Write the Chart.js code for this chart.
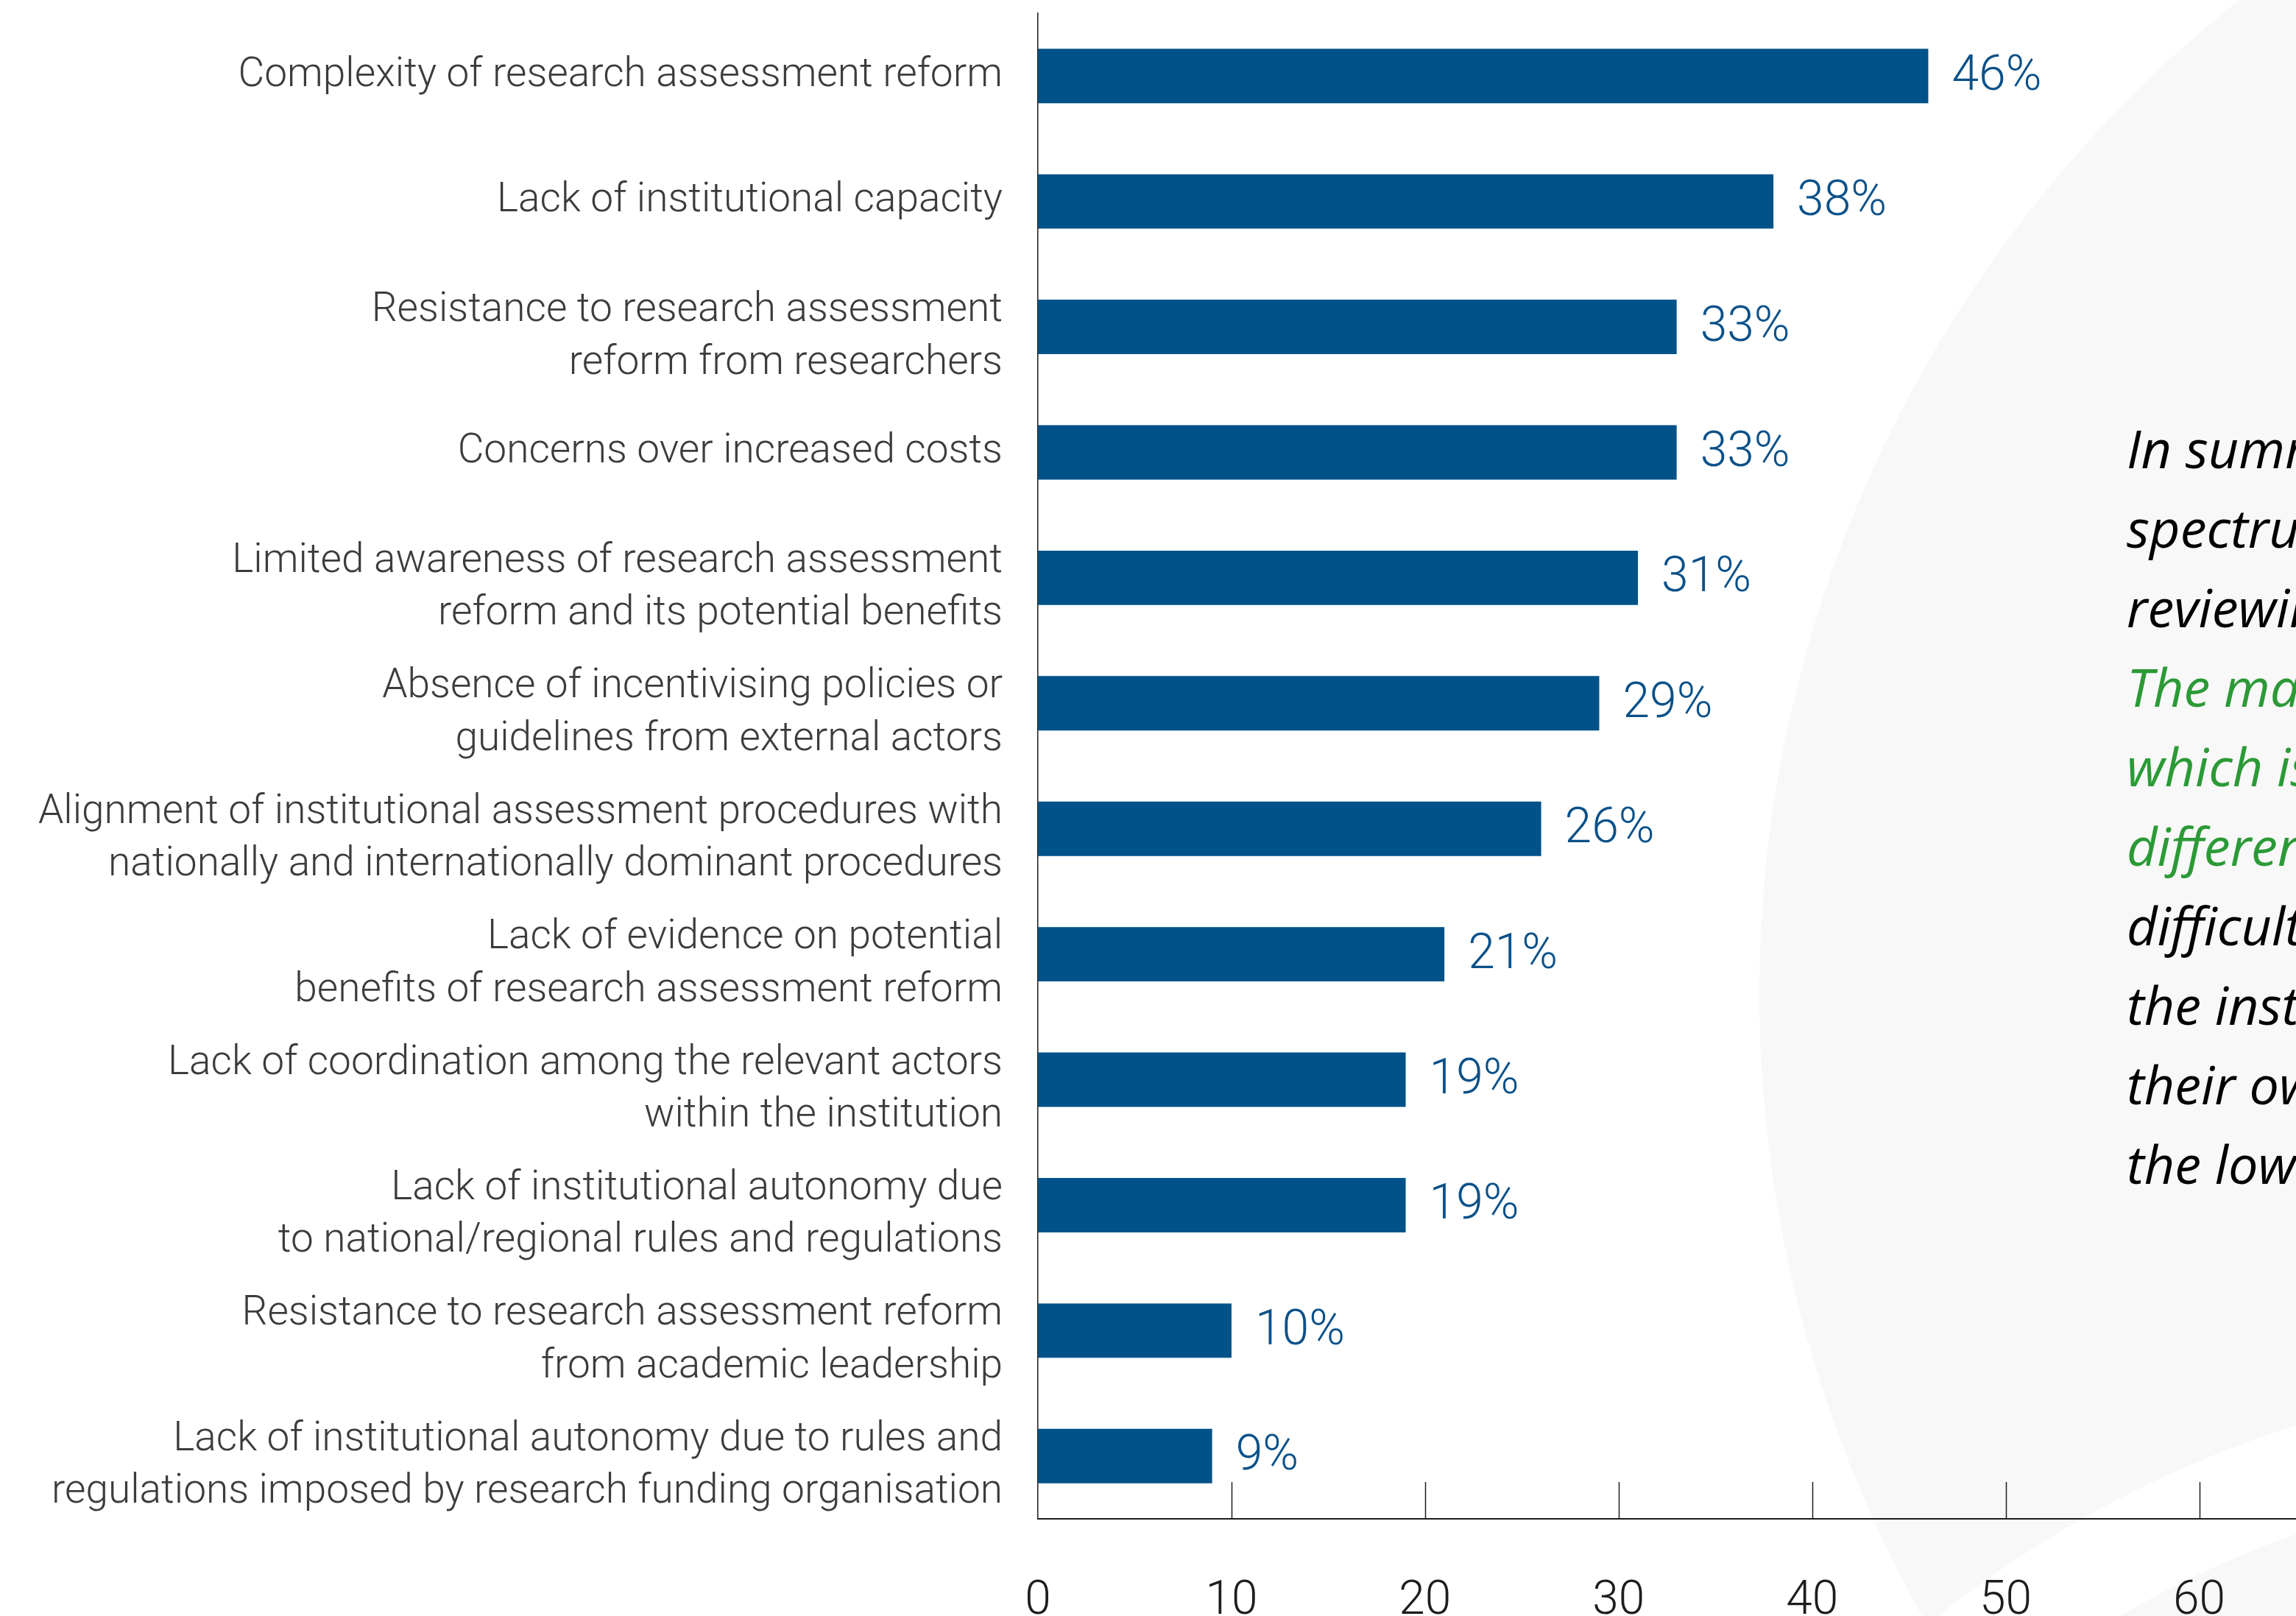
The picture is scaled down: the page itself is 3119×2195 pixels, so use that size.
<!DOCTYPE html>
<html>
<head>
<meta charset="utf-8">
<script src="https://cdn.jsdelivr.net/npm/chart.js@4.4.1/dist/chart.umd.min.js"></script>
<style>
    html, body { margin: 0; padding: 0; background: #ffffff; }
    body { width: 3119px; height: 2195px; overflow: hidden; position: relative; }
    .circulo { position: absolute; border-radius: 50%; }
    #fondo1 { left: 2390px; top: -374px; width: 3448px; height: 3448px; background: #f8f8f8; }
    #fondo2 { left: 2064px; top: 1866px; width: 3020px; height: 3020px; background: #ffffff; }
    #fondo3 { left: 2204px; top: 2006px; width: 2740px; height: 2740px; background: #f8f8f8; }
    #grafica { position: absolute; left: 0; top: 0; }
    #texto {
        position: absolute; left: 2889px; top: 554px;
        font-family: "Open Sans", Lato, sans-serif; font-style: italic;
        font-size: 72px; line-height: 108px; white-space: nowrap; color: #000000;
    }
    #texto .verde { color: #2b9a36; }
</style>
</head>
<body>
<div class="circulo" id="fondo1"></div>
<div class="circulo" id="fondo2"></div>
<div class="circulo" id="fondo3"></div>
<canvas id="grafica" width="3119" height="2195"></canvas>
<div id="texto">
    <div>In summary</div>
    <div>spectrum</div>
    <div>reviewing</div>
    <div class="verde">The main</div>
    <div class="verde">which is</div>
    <div class="verde">different</div>
    <div>difficulties</div>
    <div>the institutions</div>
    <div>their own</div>
    <div>the lowest</div>
</div>
<script>
const categorias = [
    "Complexity of research assessment reform",
    "Lack of institutional capacity",
    ["Resistance to research assessment", "reform from researchers"],
    "Concerns over increased costs",
    ["Limited awareness of research assessment", "reform and its potential benefits"],
    ["Absence of incentivising policies or", "guidelines from external actors"],
    ["Alignment of institutional assessment procedures with", "nationally and internationally dominant procedures"],
    ["Lack of evidence on potential", "benefits of research assessment reform"],
    ["Lack of coordination among the relevant actors", "within the institution"],
    ["Lack of institutional autonomy due", "to national/regional rules and regulations"],
    ["Resistance to research assessment reform", "from academic leadership"],
    ["Lack of institutional autonomy due to rules and", "regulations imposed by research funding organisation"]
];
const valores = [46, 38, 33, 33, 31, 29, 26, 21, 19, 19, 10, 9];
const ticksEje = [0, 10, 20, 30, 40, 50, 60];

const AZUL = "#005288";
const FUENTE = "Roboto, 'Open Sans', sans-serif";

// etiquetas de porcentaje al final de cada barra
const etiquetasValor = {
    id: "etiquetasValor",
    afterDatasetsDraw(chart) {
        const ctx = chart.ctx;
        const meta = chart.getDatasetMeta(0);
        ctx.save();
        ctx.font = "300 66px " + FUENTE;
        ctx.fillStyle = "#0b5189";
        ctx.textAlign = "left";
        ctx.textBaseline = "middle";
        meta.data.forEach((barra, i) => {
            ctx.fillText(valores[i] + "%", barra.x + 32, barra.y + 2);
        });
        ctx.restore();
    }
};

// las etiquetas de dos lineas van un poco mas abajo que en el original de Chart.js
const ajusteEtiquetas = {
    id: "ajusteEtiquetas",
    beforeDraw(chart) {
        const items = chart.scales.y.getLabelItems();
        items.forEach(item => {
            if (Array.isArray(item.label)) item.textOffset += 14;
        });
    }
};

// marcas del eje x hacia dentro del area
const marcasEje = {
    id: "marcasEje",
    afterDraw(chart) {
        const ctx = chart.ctx;
        const x = chart.scales.x;
        const abajo = chart.chartArea.bottom;
        ctx.save();
        ctx.strokeStyle = "#1d1d1b";
        ctx.lineWidth = 1.5;
        ticksEje.forEach(v => {
            if (v === 0) return;
            const px = Math.round(x.getPixelForValue(v)) + 0.5;
            ctx.beginPath();
            ctx.moveTo(px, abajo);
            ctx.lineTo(px, abajo - 50);
            ctx.stroke();
        });
        ctx.restore();
    }
};

function crearGrafica() {
    const ctx = document.getElementById("grafica").getContext("2d");
    new Chart(ctx, {
        type: "bar",
        data: {
            labels: categorias,
            datasets: [{
                data: valores,
                backgroundColor: AZUL,
                borderWidth: 0,
                barPercentage: 0.434,
                categoryPercentage: 1
            }]
        },
        options: {
            indexAxis: "y",
            responsive: false,
            animation: false,
            devicePixelRatio: 1,
            layout: { padding: { top: 18, left: 0, right: 0, bottom: 0 } },
            plugins: { legend: { display: false }, tooltip: { enabled: false } },
            scales: {
                x: {
                    min: 0,
                    max: 65,
                    afterBuildTicks: (scale) => { scale.ticks = ticksEje.map(v => ({ value: v })); },
                    afterFit: (scale) => {
                        scale.height = 132;
                        scale.paddingLeft = 0;
                        scale.paddingRight = 0;
                    },
                    grid: { display: false, drawTicks: false },
                    border: { display: true, color: "#1d1d1b", width: 2 },
                    ticks: {
                        padding: 75,
                        color: "#1d1d1b",
                        font: { family: FUENTE, size: 64, weight: "300", lineHeight: 1.2 }
                    }
                },
                y: {
                    afterFit: (scale) => {
                        scale.width = 1410;
                        scale.paddingTop = 0;
                        scale.paddingBottom = 0;
                    },
                    grid: { display: false, drawTicks: false },
                    border: { display: true, color: "#1d1d1b", width: 1.5 },
                    ticks: {
                        padding: 48,
                        color: "#3c3c3b",
                        autoSkip: false,
                        font: { family: FUENTE, size: 55, weight: "300", lineHeight: 1.3 }
                    }
                }
            }
        },
        plugins: [etiquetasValor, ajusteEtiquetas, marcasEje]
    });
}

document.addEventListener("DOMContentLoaded", () => {
    crearGrafica();
});
</script>
</body>
</html>
